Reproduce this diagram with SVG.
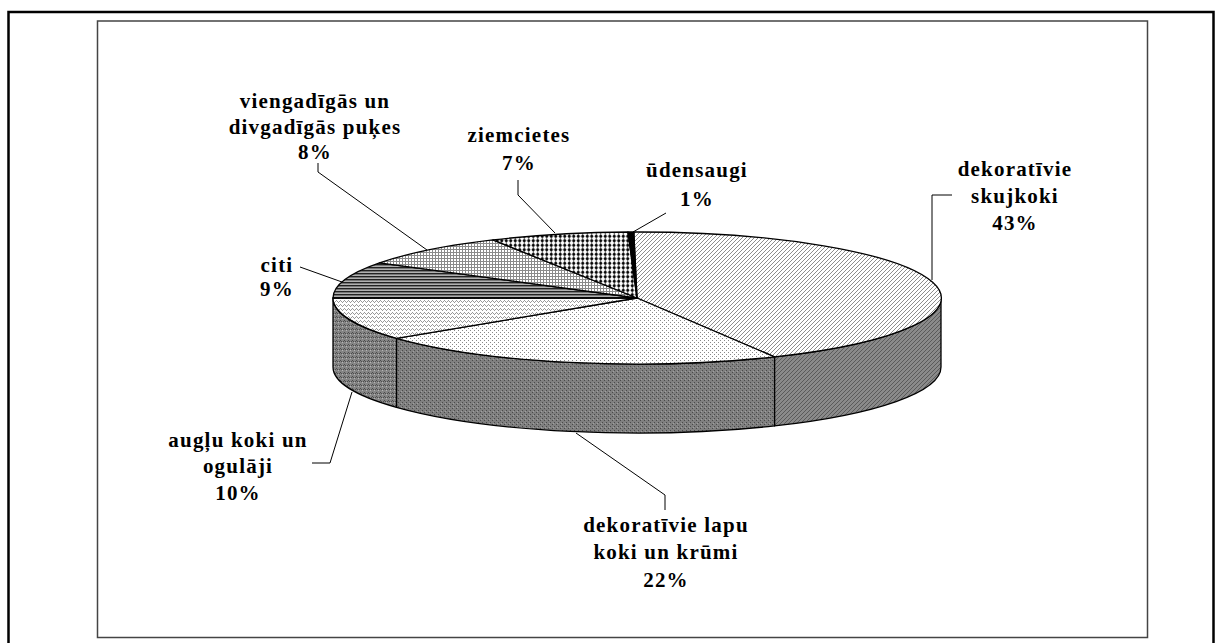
<svg xmlns="http://www.w3.org/2000/svg" width="1222" height="643" viewBox="0 0 1222 643">
<style>
.lbl{font-family:"Liberation Serif","Times New Roman",serif;font-weight:bold;font-size:21px;letter-spacing:1.2px;text-anchor:middle;fill:#000}
.edge{stroke:#000;stroke-width:1.3;stroke-linejoin:round}
.lead{fill:none;stroke:#000;stroke-width:1}
</style>
<defs>
<pattern id="skujTop" width="4" height="4" patternUnits="userSpaceOnUse"><rect width="4" height="4" fill="#fff"/><path d="M-1,1 L1,-1 M0,4 L4,0 M3,5 L5,3" stroke="#808080" stroke-width="0.9"/></pattern>
<pattern id="skujSide" width="4" height="4" patternUnits="userSpaceOnUse"><rect width="4" height="4" fill="#8a8a8a"/><path d="M-1,1 L1,-1 M0,4 L4,0 M3,5 L5,3" stroke="#555" stroke-width="0.9"/></pattern>
<pattern id="lapuTop" width="4" height="4" patternUnits="userSpaceOnUse"><rect width="4" height="4" fill="#fff"/><rect x="0" y="0" width="1" height="1" fill="#888"/><rect x="2" y="2" width="1" height="1" fill="#888"/></pattern>
<pattern id="lapuSide" width="4" height="4" patternUnits="userSpaceOnUse"><rect width="4" height="4" fill="#808080"/><rect x="0" y="0" width="1" height="1" fill="#4a4a4a"/><rect x="2" y="2" width="1" height="1" fill="#4a4a4a"/><rect x="1" y="3" width="1" height="1" fill="#a0a0a0"/></pattern>
<pattern id="auglTop" width="4" height="4" patternUnits="userSpaceOnUse"><rect width="4" height="4" fill="#fff"/><rect x="0" y="0" width="1" height="1" fill="#999"/><rect x="1" y="1" width="1" height="1" fill="#999"/><rect x="2" y="2" width="1" height="1" fill="#999"/><rect x="3" y="1" width="1" height="1" fill="#999"/></pattern>
<pattern id="auglSide" width="4" height="4" patternUnits="userSpaceOnUse"><rect width="4" height="4" fill="#858585"/><rect x="0" y="0" width="1" height="1" fill="#4d4d4d"/><rect x="1" y="1" width="1" height="1" fill="#4d4d4d"/><rect x="2" y="2" width="1" height="1" fill="#b5b5b5"/><rect x="3" y="1" width="1" height="1" fill="#4d4d4d"/></pattern>
<pattern id="citiP" width="4" height="3" patternUnits="userSpaceOnUse"><rect width="4" height="3" fill="#b0b0b0"/><rect y="0" width="4" height="1" fill="#222"/><rect y="1" width="4" height="1" fill="#777"/></pattern>
<pattern id="viengP" width="3" height="3" patternUnits="userSpaceOnUse"><rect width="3" height="3" fill="#fff"/><rect width="3" height="1" fill="#8a8a8a"/><rect width="1" height="3" fill="#8a8a8a"/></pattern>
<pattern id="ziemP" width="4.5" height="4.5" patternUnits="userSpaceOnUse"><rect width="4.5" height="4.5" fill="#fff"/><path d="M2.25,0.1 L4.1,2.25 L2.25,4.4 L0.4,2.25 Z" fill="#000"/></pattern>
</defs>
<rect x="8.5" y="12" width="1205" height="650" fill="#fff" stroke="#000" stroke-width="2.5"/>
<rect x="97.5" y="21" width="1050" height="616.5" fill="#fff" stroke="#444" stroke-width="1.5"/>

<g id="slice-skujkoki">
<path class="edge" fill="url(#skujSide)" d="M941,298 A304,66 0 0 1 774.5,356.9 L774.5,425.9 A304,66 0 0 0 941,367 Z"/>
<path class="edge" fill="url(#skujTop)" d="M637,298 L633.8,232 A304,66 0 0 1 774.5,356.9 Z"/>
</g>
<g id="slice-lapu">
<path class="edge" fill="url(#lapuSide)" d="M774.5,356.9 A304,66 0 0 1 396.5,338.4 L396.5,407.4 A304,66 0 0 0 774.5,425.9 Z"/>
<path class="edge" fill="url(#lapuTop)" d="M637,298 L774.5,356.9 A304,66 0 0 1 396.5,338.4 Z"/>
</g>
<g id="slice-auglu">
<path class="edge" fill="url(#auglSide)" d="M396.5,338.4 A304,66 0 0 1 333,298 L333,367 A304,66 0 0 0 396.5,407.4 Z"/>
<path class="edge" fill="url(#auglTop)" d="M637,298 L396.5,338.4 A304,66 0 0 1 333,298 Z"/>
</g>
<g id="slice-citi">
<path class="edge" fill="url(#citiP)" d="M637,298 L333,298 A304,66 0 0 1 379.5,262.9 Z"/>
</g>
<g id="slice-viengadigas">
<path class="edge" fill="url(#viengP)" d="M637,298 L379.5,262.9 A304,66 0 0 1 492.9,239.9 Z"/>
</g>
<g id="slice-ziemcietes">
<path class="edge" fill="url(#ziemP)" d="M637,298 L492.9,239.9 A304,66 0 0 1 628,232 Z"/>
</g>
<g id="slice-udensaugi">
<path class="edge" fill="#000" d="M637,298 L628,232 A304,66 0 0 1 633.8,232 Z"/>
</g>

<g id="connectors">
<polyline class="lead" points="318,163 318,172 427,250"/>
<polyline class="lead" points="518,180 518,195 555,233"/>
<polyline class="lead" points="633,232 666,213"/>
<polyline class="lead" points="932,280 932,195 952,195"/>
<polyline class="lead" points="576,433 665,495 665,510"/>
<polyline class="lead" points="352,392 330,463 312,463"/>
<polyline class="lead" points="342,282 300,267"/>
</g>

<g id="label-viengadigas"><text class="lbl"><tspan x="315" y="108">viengadīgās un</tspan><tspan x="315" y="134">divgadīgās puķes</tspan><tspan x="315" y="159">8%</tspan></text></g>
<g id="label-ziemcietes"><text class="lbl"><tspan x="519" y="142">ziemcietes</tspan><tspan x="519" y="170">7%</tspan></text></g>
<g id="label-udensaugi"><text class="lbl"><tspan x="697" y="177">ūdensaugi</tspan><tspan x="697" y="206">1%</tspan></text></g>
<g id="label-skujkoki"><text class="lbl"><tspan x="1015" y="176">dekoratīvie</tspan><tspan x="1015" y="203">skujkoki</tspan><tspan x="1015" y="230">43%</tspan></text></g>
<g id="label-citi"><text class="lbl"><tspan x="277" y="272">citi</tspan><tspan x="277" y="296">9%</tspan></text></g>
<g id="label-auglu"><text class="lbl"><tspan x="238" y="447">augļu koki un</tspan><tspan x="238" y="473">ogulāji</tspan><tspan x="238" y="500">10%</tspan></text></g>
<g id="label-lapu"><text class="lbl"><tspan x="666" y="532">dekoratīvie lapu</tspan><tspan x="666" y="559">koki un krūmi</tspan><tspan x="666" y="587">22%</tspan></text></g>
</svg>
